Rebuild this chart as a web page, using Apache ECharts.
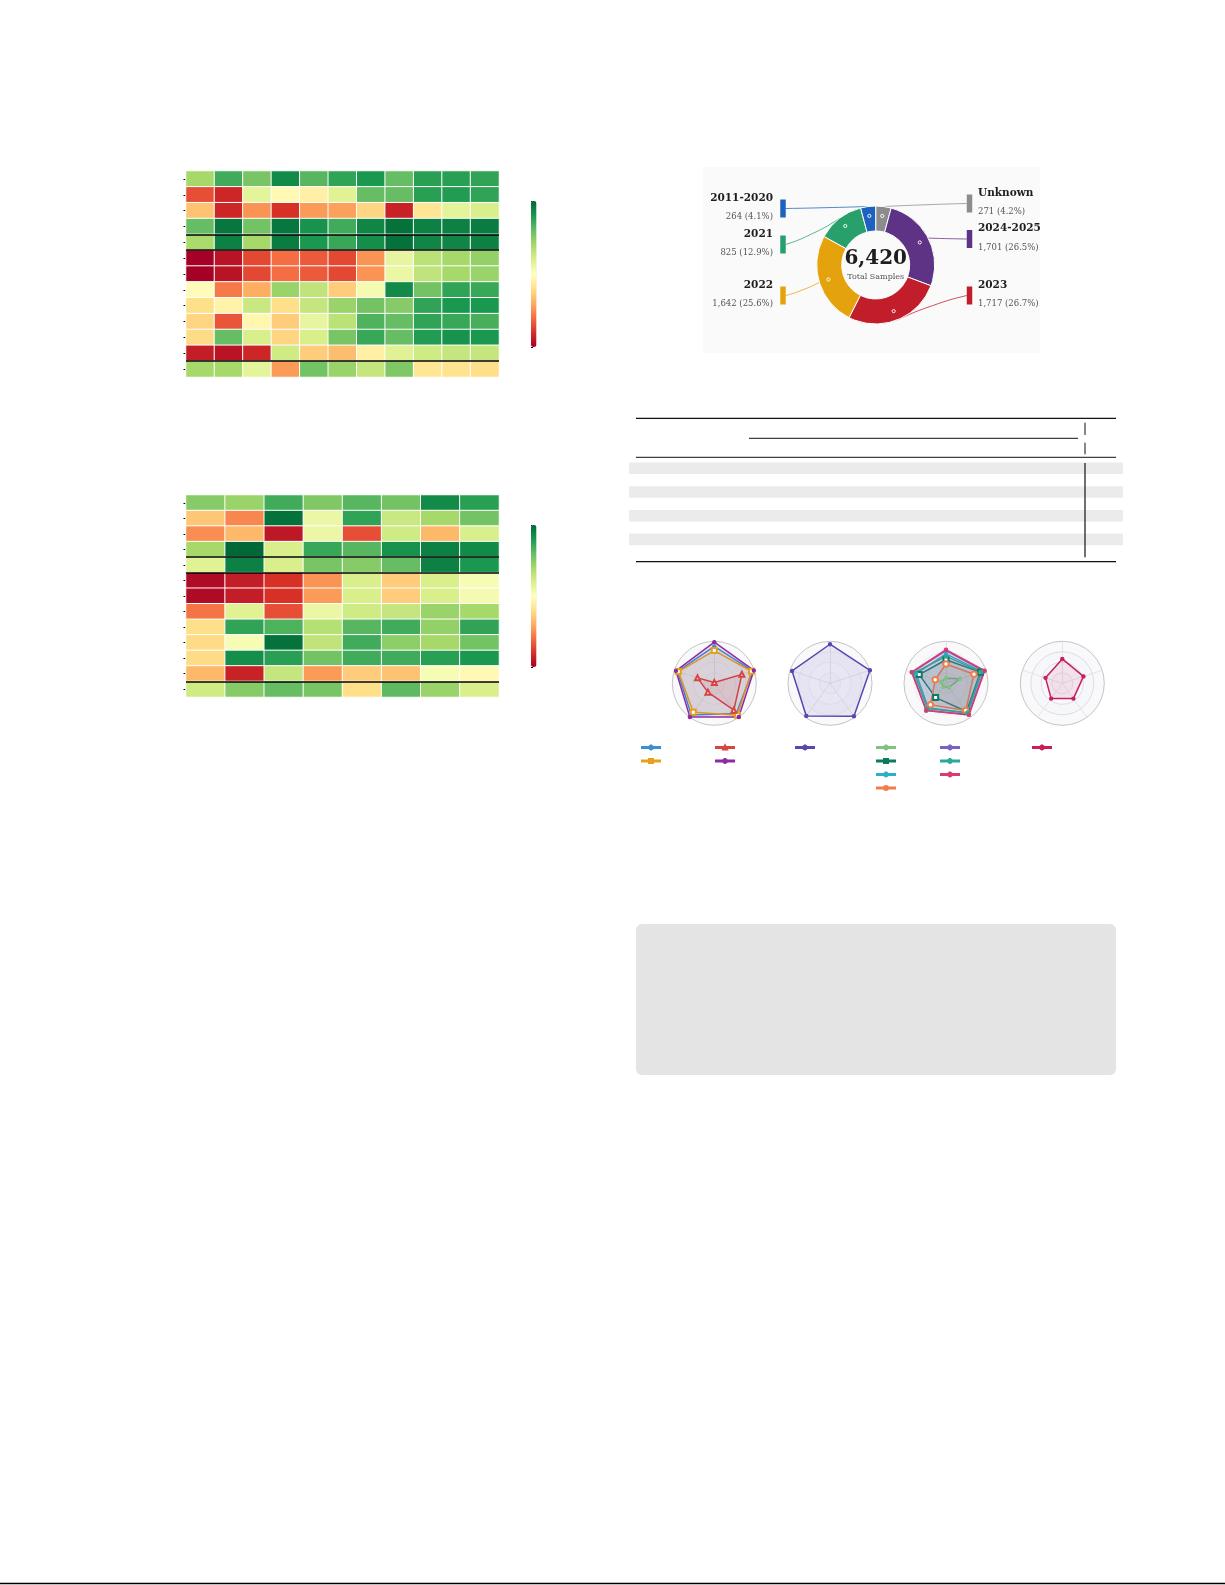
<!DOCTYPE html>
<html><head><meta charset="utf-8">
<script src="https://cdn.jsdelivr.net/npm/echarts@6/dist/echarts.min.js"></script>
<style>html,body{margin:0;padding:0;background:#fff}#c{width:1225px;height:1585px}</style>
</head><body><div id="c"></div>
<script>
// ---------------- DATA ----------------
const hm1Rows = ['R1','R2','R3','R4','R5','R6','R7','R8','R9','R10','R11','R12','R13'];
const hm1Cols = ['C1','C2','C3','C4','C5','C6','C7','C8','C9','C10','C11'];
const hm1Values = [
 [0.70,0.85,0.77,0.93,0.82,0.87,0.90,0.80,0.88,0.88,0.87],
 [0.15,0.08,0.57,0.48,0.45,0.58,0.80,0.80,0.88,0.89,0.87],
 [0.34,0.08,0.26,0.10,0.27,0.28,0.38,0.07,0.42,0.57,0.60],
 [0.80,0.97,0.78,0.97,0.91,0.85,0.94,0.98,0.95,0.95,0.96],
 [0.69,0.95,0.70,0.96,0.90,0.86,0.92,0.98,0.94,0.94,0.95],
 [0.00,0.04,0.14,0.20,0.17,0.14,0.26,0.56,0.66,0.70,0.73],
 [0.00,0.04,0.14,0.20,0.17,0.14,0.26,0.55,0.65,0.70,0.72],
 [0.49,0.22,0.30,0.72,0.65,0.36,0.53,0.93,0.78,0.87,0.86],
 [0.40,0.46,0.63,0.40,0.64,0.72,0.78,0.75,0.87,0.90,0.90],
 [0.38,0.16,0.47,0.36,0.56,0.66,0.83,0.80,0.87,0.86,0.84],
 [0.39,0.80,0.60,0.38,0.60,0.77,0.86,0.80,0.89,0.91,0.90],
 [0.06,0.04,0.08,0.62,0.36,0.33,0.45,0.58,0.62,0.64,0.64],
 [0.70,0.70,0.57,0.27,0.78,0.72,0.64,0.76,0.42,0.41,0.40]
];
const hm1Separators = [4, 5, 12];

const hm2Rows = ['R1','R2','R3','R4','R5','R6','R7','R8','R9','R10','R11','R12','R13'];
const hm2Cols = ['C1','C2','C3','C4','C5','C6','C7','C8'];
const hm2Values = [
 [0.75,0.72,0.85,0.76,0.82,0.78,0.93,0.88],
 [0.35,0.24,0.98,0.55,0.87,0.63,0.70,0.78],
 [0.25,0.32,0.05,0.55,0.15,0.62,0.32,0.60],
 [0.70,1.00,0.60,0.86,0.82,0.91,0.95,0.93],
 [0.58,0.95,0.60,0.77,0.75,0.80,0.95,0.90],
 [0.02,0.06,0.10,0.26,0.60,0.36,0.60,0.52],
 [0.02,0.06,0.10,0.27,0.60,0.36,0.60,0.53],
 [0.21,0.58,0.15,0.55,0.62,0.64,0.72,0.70],
 [0.40,0.87,0.83,0.67,0.82,0.85,0.73,0.87],
 [0.39,0.52,0.98,0.65,0.85,0.74,0.70,0.78],
 [0.39,0.92,0.88,0.78,0.85,0.85,0.88,0.90],
 [0.32,0.07,0.64,0.27,0.36,0.34,0.52,0.48],
 [0.62,0.75,0.80,0.77,0.40,0.81,0.72,0.60]
];
const hm2Separators = [4, 5, 12];
const colorbarMin = 0, colorbarMax = 1, colorbarStep = 0.2;

const periodNames  = ['Unknown','2024-2025','2023','2022','2021','2011-2020'];
const periodCounts = [271, 1701, 1717, 1642, 825, 264];
const periodColors = ['#8c8c8c','#5e3386','#c21d2b','#e4a30c','#27a06c','#1e62bf'];
const centerCaption = 'Total Samples';

const radarIndicators = ['D1','D2','D3','D4','D5'];
// order: top, upper-left, lower-left, lower-right, upper-right
const radar1Names  = ['Method A','Method B','Method C','Method D'];
const radar1Values = [
 [0.88,0.92,0.93,0.89,0.96],
 [0.78,0.90,0.85,0.94,0.93],
 [0.02,0.42,0.26,0.79,0.69],
 [0.98,0.96,0.99,0.99,0.99]
];
const radar2Names  = ['Method E'];
const radar2Values = [[0.93,0.95,0.96,0.97,1.00]];
const radar3Names  = ['Method F','Method G','Method H','Method I','Method J','Method K','Method L'];
const radar3Values = [
 [0.12,0.12,0.10,0.12,0.35],
 [0.56,0.67,0.42,0.83,0.86],
 [0.70,0.75,0.72,0.88,0.90],
 [0.46,0.27,0.63,0.80,0.70],
 [0.78,0.85,0.80,0.92,0.95],
 [0.64,0.80,0.75,0.86,0.88],
 [0.80,0.86,0.80,0.93,0.97]
];
const radar4Names  = ['Method M'];
const radar4Values = [[0.58,0.42,0.45,0.45,0.53]];

// ---------------- STYLES / LAYOUT ----------------
const RdYlGn = ['#a50026','#d73027','#f46d43','#fdae61','#fee08b','#ffffbf','#d9ef8b','#a6d96a','#66bd63','#1a9850','#006837'];
const radarStyles = [
 [{c:'#3d8fd1',s:'circle',z:3},{c:'#e3a21a',s:'emptyRect',z:5},{c:'#d64541',s:'emptyTriangle',z:5},{c:'#8e2ba5',s:'circle',z:3}],
 [{c:'#5a46b0',s:'circle',z:3}],
 [{c:'#7cc47f',s:'circle',z:2},{c:'#0f7a62',s:'emptyRect',z:5},{c:'#2bb0cc',s:'circle',z:3},{c:'#f07e4a',s:'emptyCircle',z:6},{c:'#7a62c0',s:'circle',z:3},{c:'#2aa99a',s:'circle',z:3},{c:'#d93c70',s:'circle',z:3}],
 [{c:'#c91e5e',s:'circle',z:3}]
];
const legendIcons = {
 circle:'path://M0,1.5H18V2.5H0Z M7.2,2A1.8,1.8,0,1,1,10.8,2A1.8,1.8,0,1,1,7.2,2Z M8.9,0H9.1V4H8.9Z',
 emptyCircle:'path://M0,1.5H18V2.5H0Z M7,2A2,2,0,1,1,11,2A2,2,0,1,1,7,2Z',
 emptyRect:'path://M0,1.5H18V2.5H0Z M7,0H11V4H7Z',
 emptyTriangle:'path://M0,1.5H18V2.5H0Z M9,0L11,4H7Z'
};
const donutCenter = [875.7, 265];
const donutRadius = [34, 59];
const donutSlots = [
 {side:'right', y:202.5},{side:'right', y:238},{side:'right', y:294.5},
 {side:'left', y:294.5},{side:'left', y:243.5},{side:'left', y:207.5}
];

// ---------------- BUILD ----------------
const total = periodCounts.reduce((a,b)=>a+b,0);
const fmt = n => n.toLocaleString('en-US');
function segPoint(i, r){
  let cum = 0; for (let k=0;k<i;k++) cum += periodCounts[k];
  const frac = (cum + periodCounts[i]/2) / total;
  const a = (90 - frac*360) * Math.PI/180;
  return [donutCenter[0] + r*Math.cos(a), donutCenter[1] - r*Math.sin(a)];
}
function heatData(vals){ const out=[]; vals.forEach((row,r)=>row.forEach((v,c)=>out.push([c,r,v]))); return out; }

function catAxis(grid, data, extra){
  return Object.assign({type:'category', gridIndex:grid, data:data,
    axisLine:{show:false}, axisLabel:{show:false, interval:0}, splitLine:{show:false},
    axisTick:{show:true, alignWithLabel:true, interval:0, length:2.5, lineStyle:{color:'#000', width:1}}}, extra||{});
}
function hiddenVal(grid, min, max, extra){
  return Object.assign({type:'value', gridIndex:grid, min:min, max:max, show:false}, extra||{});
}
const cbTickAxis = (grid) => ({type:'value', gridIndex:grid, min:colorbarMin, max:colorbarMax, interval:colorbarStep, position:'right',
  axisLine:{show:false}, axisLabel:{show:false}, splitLine:{show:false},
  axisTick:{show:true, length:2, lineStyle:{color:'#000', width:1}}});

const gridBase = {outerBoundsMode:'none', containLabel:false, show:false};

function sepSeries(xi, yi, seps){
  return {type:'line', xAxisIndex:xi, yAxisIndex:yi, data:[[0,0]], showSymbol:false, symbol:'none',
    lineStyle:{width:0, opacity:0}, silent:true, z:5,
    markLine:{silent:true, symbol:['none','none'], label:{show:false}, animation:false,
      lineStyle:{color:'#000', width:1.5, type:'solid'}, emphasis:{disabled:true},
      data: seps.map(v=>({yAxis:v}))}};
}

const radarCenters = [[714.3,683.3],[830,683.3],[946,683.3],[1062.3,683.3]];
const radarSets = [[radar1Names,radar1Values],[radar2Names,radar2Values],[radar3Names,radar3Values],[radar4Names,radar4Values]];

const radarSeries = radarSets.map((set,k)=>({
  type:'radar', radarIndex:k, silent:true,
  data: set[0].map((n,i)=>{
    const st = radarStyles[k][i];
    return {name:n, value:set[1][i], symbol:st.s, symbolSize:st.s.startsWith('empty')? (st.s==='emptyCircle'?5.5:5) : 3.2,
      z: st.z,
      itemStyle:{color:st.c, borderColor:st.c, borderWidth:1.2},
      lineStyle:{color:st.c, width:1.5},
      areaStyle:{color:st.c, opacity:0.1}};
  })
}));

const legendCols = [
  {left:641, names:[radar1Names[0],radar1Names[1]], k:0, idx:[0,1]},
  {left:715, names:[radar1Names[2],radar1Names[3]], k:0, idx:[2,3]},
  {left:795, names:[radar2Names[0]], k:1, idx:[0]},
  {left:876, names:radar3Names.slice(0,4), k:2, idx:[0,1,2,3]},
  {left:940, names:radar3Names.slice(4), k:2, idx:[4,5,6]},
  {left:1032, names:[radar4Names[0]], k:3, idx:[0]}
];
const legends = legendCols.map(col=>({
  orient:'vertical', left:col.left, top:744.5, padding:0, itemWidth:18, itemHeight:4, itemGap:7.5,
  selectedMode:false, formatter:()=> '', textStyle:{fontSize:5, lineHeight:5},
  data: col.names.map((n,j)=>({name:n, icon: legendIcons[radarStyles[col.k][col.idx[j]].s] || legendIcons.circle}))
}));

// Table & page decorations
const tableRowTop = 462.5, tableRowH = 11.85, tableRows = 8;
const graphics = [
  {type:'rect', z:-10, shape:{x:703, y:167, width:337, height:186}, style:{fill:'#fafafa'}},
  {type:'text', z:100, x:donutCenter[0], y:donutCenter[1]-6, style:{text:fmt(total), align:'center', verticalAlign:'middle',
     font:'bold 20px "DejaVu Serif"', fill:'#1e1e1e'}},
  {type:'text', z:100, x:donutCenter[0], y:donutCenter[1]+12, style:{text:centerCaption, align:'center', verticalAlign:'middle',
     font:'8px "DejaVu Serif"', fill:'#555'}},
  // table
  {type:'line', shape:{x1:636,y1:418.3,x2:1116,y2:418.3}, style:{stroke:'#111', lineWidth:1.2}},
  {type:'line', shape:{x1:749,y1:438.3,x2:1078,y2:438.3}, style:{stroke:'#111', lineWidth:1}},
  {type:'line', shape:{x1:1085,y1:422.7,x2:1085,y2:435}, style:{stroke:'#111', lineWidth:1}},
  {type:'line', shape:{x1:1085,y1:442.7,x2:1085,y2:454.3}, style:{stroke:'#111', lineWidth:1}},
  {type:'line', shape:{x1:636,y1:457.3,x2:1116,y2:457.3}, style:{stroke:'#111', lineWidth:1}},
];
for (let r=0;r<tableRows;r+=2){
  graphics.push({type:'rect', z:-5, shape:{x:629, y:tableRowTop + r*tableRowH, width:494, height:tableRowH-0.3}, style:{fill:'#ebebeb'}});
}
graphics.push(
  {type:'line', shape:{x1:1085,y1:463,x2:1085,y2:557.3}, style:{stroke:'#111', lineWidth:1.2}},
  {type:'line', shape:{x1:636,y1:561.7,x2:1116,y2:561.7}, style:{stroke:'#111', lineWidth:1.2}},
  {type:'rect', z:-10, shape:{x:636, y:924, width:480, height:151, r:6}, style:{fill:'#e4e4e4'}},
  {type:'line', shape:{x1:0,y1:1583.5,x2:1225,y2:1583.5}, style:{stroke:'#000', lineWidth:1.5}}
);

const option = {
  animation:false,
  backgroundColor:'#ffffff',
  grid:[
    Object.assign({left:186, top:171, width:313, height:206}, gridBase),
    Object.assign({left:186, top:495, width:313, height:202}, gridBase),
    Object.assign({left:531, top:201, width:5.5, height:146}, gridBase),
    Object.assign({left:531, top:525, width:5.5, height:142}, gridBase)
  ],
  xAxis:[
    catAxis(0, hm1Cols, {position:'bottom'}),
    hiddenVal(0, 0, 1),
    catAxis(1, hm2Cols, {position:'bottom'}),
    hiddenVal(1, 0, 1),
    hiddenVal(2, 0, 1),
    hiddenVal(3, 0, 1)
  ],
  yAxis:[
    catAxis(0, hm1Rows, {inverse:true, position:'left'}),
    hiddenVal(0, 0, hm1Rows.length, {inverse:true}),
    catAxis(1, hm2Rows, {inverse:true, position:'left'}),
    hiddenVal(1, 0, hm2Rows.length, {inverse:true}),
    cbTickAxis(2),
    cbTickAxis(3)
  ],
  visualMap:[
    {type:'continuous', min:colorbarMin, max:colorbarMax, seriesIndex:0, left:531, top:201, itemWidth:5.5, itemHeight:146,
     calculable:false, padding:0, text:null, hoverLink:false, inRange:{color:RdYlGn}},
    {type:'continuous', min:colorbarMin, max:colorbarMax, seriesIndex:2, left:531, top:525, itemWidth:5.5, itemHeight:142,
     calculable:false, padding:0, text:null, hoverLink:false, inRange:{color:RdYlGn}}
  ],
  radar: radarCenters.map((c,k)=>({
    center:c, radius:42, shape:'circle', splitNumber:4, startAngle:90,
    indicator: radarIndicators.map(n=>({name:n, min:0, max:1})),
    axisName:{show:false},
    axisLine:{lineStyle:{color:'#dedede', width:0.8}},
    splitLine:{lineStyle:{color: k===3 ? ['#dcdcdc','#dcdcdc','#d6d6d6','#d6d6d6','#b5b5b5'] : ['#e8e8e8','#e8e8e8','#e8e8e8','#e8e8e8','#b5b5b5'], width:0.8}},
    splitArea:{show:true, areaStyle:{color:['#f6f7fa','#f9f9fb']}}
  })),
  legend: legends,
  graphic: graphics,
  series:[
    {type:'heatmap', xAxisIndex:0, yAxisIndex:0, data:heatData(hm1Values), silent:true,
     itemStyle:{borderColor:'#fff', borderWidth:1}},
    sepSeries(1, 1, hm1Separators),
    {type:'heatmap', xAxisIndex:2, yAxisIndex:2, data:heatData(hm2Values), silent:true,
     itemStyle:{borderColor:'#fff', borderWidth:1}},
    sepSeries(3, 3, hm2Separators),
    // visible donut with segment markers
    {type:'pie', center:donutCenter, radius:donutRadius, startAngle:90, clockwise:true, silent:true, avoidLabelOverlap:false,
     z:3,
     data: periodNames.map((n,i)=>({name:n, value:periodCounts[i], itemStyle:{color:periodColors[i]}})),
     itemStyle:{borderColor:'#fff', borderWidth:1},
     label:{show:true, position:'inside', formatter:'{c|}', rich:{c:{width:3.2, height:3.2, borderRadius:2, borderColor:'#fff', borderWidth:0.9}}},
     labelLine:{show:false}},
    // text labels
    {type:'pie', center:donutCenter, radius:donutRadius, startAngle:90, clockwise:true, silent:true, avoidLabelOverlap:false,
     z:2,
     data: periodNames.map((n,i)=>({name:n, value:periodCounts[i]})),
     itemStyle:{color:'rgba(0,0,0,0)'},
     label:{show:true, position:'outside',
       formatter: p => `{n|${p.name}}\n{v|${fmt(p.value)} (${(p.value/total*100).toFixed(1)}%)}`,
       rich:{n:{fontFamily:'DejaVu Serif', fontWeight:'bold', fontSize:10.5, color:'#1e1e1e', lineHeight:19},
             v:{fontFamily:'DejaVu Serif', fontSize:8.5, color:'#555', lineHeight:19}}},
     labelLine:{show:false},
     labelLayout: p => { const s = donutSlots[p.dataIndex]; const left = s.side==='left';
       return {x: left?773:978, y:s.y, align: left?'right':'left', verticalAlign:'middle'}; }},
    // colored bars + connectors
    {type:'pie', center:donutCenter, radius:donutRadius, startAngle:90, clockwise:true, silent:true, avoidLabelOverlap:false,
     z:1,
     data: periodNames.map((n,i)=>({name:n, value:periodCounts[i],
       label:{rich:{b:{width:5.5, height:18, backgroundColor:periodColors[i]}}},
       labelLine:{lineStyle:{color:periodColors[i]}}})),
     itemStyle:{color:'rgba(0,0,0,0)'},
     label:{show:true, position:'outside', formatter:'{b|}'},
     labelLine:{show:true, smooth:0.5, length:5, length2:5, lineStyle:{width:0.9, opacity:0.85}},
     labelLayout: p => { const s = donutSlots[p.dataIndex]; const left = s.side==='left';
       const bx = left?783:969.5, by = s.y+1;
       const p0 = segPoint(p.dataIndex, donutRadius[1]);
       const p2 = [left? bx+2.75 : bx-2.75, by];
       const p1 = [(p0[0]+p2[0])/2, p0[1]*0.35 + p2[1]*0.65];
       return {x:bx, y:by, align:'center', verticalAlign:'middle', labelLinePoints:[p0,p1,p2]}; }}
  ].concat(radarSeries)
};

const chart = echarts.init(document.getElementById('c'), null, {renderer:'canvas', width:1225, height:1585});
chart.setOption(option);
</script>
</body></html>
